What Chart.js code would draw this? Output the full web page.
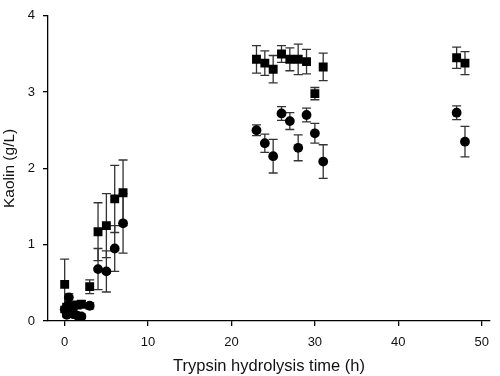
<!DOCTYPE html>
<html>
  <head>
    <script src="https://cdn.jsdelivr.net/npm/chart.js@4.4.0/dist/chart.umd.min.js"></script>
    <style type="text/css">
      html, body { margin: 0; padding: 0; background: #fff; }
      .wrap { width: 500px; height: 376px; }
    </style>
  </head>
  <body>
    <div class="wrap"><canvas id="canvas" width="500" height="376"></canvas></div>

    <script type="text/javascript">
      // squares (upper series)
      var sqTime   = [0, 0.25, 0.5, 1, 1.5, 2, 3, 4, 5, 6, 7, 23, 24, 25, 26, 27, 28, 29, 30, 31, 47, 48];
      var sqKaolin = [0.48, 0.18, 0.2, 0.19, 0.21, 0.22, 0.45, 1.17, 1.25, 1.6, 1.68, 3.43, 3.38, 3.3, 3.5, 3.43, 3.43, 3.4, 2.98, 3.33, 3.45, 3.38];
      var sqErr    = [0.33, 0.04, 0.04, 0.04, 0.04, 0.04, 0.09, 0.38, 0.42, 0.44, 0.43, 0.18, 0.16, 0.18, 0.11, 0.15, 0.2, 0.16, 0.08, 0.18, 0.14, 0.15];

      // circles (lower series)
      var cirTime   = [0, 0.25, 0.5, 1, 1.5, 2, 3, 4, 5, 6, 7, 23, 24, 25, 26, 27, 28, 29, 30, 31, 47, 48];
      var cirKaolin = [0.15, 0.08, 0.31, 0.09, 0.07, 0.06, 0.2, 0.68, 0.65, 0.95, 1.28, 2.5, 2.33, 2.16, 2.72, 2.62, 2.27, 2.7, 2.46, 2.09, 2.73, 2.35];
      var cirErr    = [0.04, 0.03, 0.05, 0.03, 0.03, 0.03, 0.04, 0.27, 0.27, 0.3, 0.39, 0.07, 0.12, 0.22, 0.09, 0.11, 0.17, 0.09, 0.13, 0.22, 0.09, 0.2];

      var xTicks = [0, 10, 20, 30, 40, 50];
      var yTicks = [0, 1, 2, 3, 4];

      var toPoints = function(xs, ys, es) {
        return xs.map(function(x, i) { return { x: x, y: ys[i], err: es[i] }; });
      };

      var errorBars = {
        id: "errorBars",
        beforeDatasetsDraw: function(chart) {
          var ctx = chart.ctx;
          var xs = chart.scales.x, ys = chart.scales.y;
          ctx.save();
          ctx.strokeStyle = "#333";
          ctx.lineWidth = 1.3;
          chart.data.datasets.forEach(function(ds) {
            ds.data.forEach(function(p) {
              var px = xs.getPixelForValue(p.x);
              var top = ys.getPixelForValue(p.y + p.err);
              var bot = ys.getPixelForValue(Math.max(0, p.y - p.err));
              ctx.beginPath();
              ctx.moveTo(px, top); ctx.lineTo(px, bot);
              ctx.moveTo(px - 4.5, top); ctx.lineTo(px + 4.5, top);
              ctx.moveTo(px - 4.5, bot); ctx.lineTo(px + 4.5, bot);
              ctx.stroke();
            });
          });
          ctx.restore();
        }
      };

      var family = "'Liberation Sans', Arial, sans-serif";
      var font = { family: family, size: 13 };

      new Chart(document.getElementById("canvas").getContext("2d"), {
        type: "scatter",
        data: {
          datasets: [
            {
              label: "squares",
              data: toPoints(sqTime, sqKaolin, sqErr),
              pointStyle: "rect",
              pointRadius: 6.3,
              backgroundColor: "#000",
              borderColor: "#000",
              borderWidth: 0
            },
            {
              label: "circles",
              data: toPoints(cirTime, cirKaolin, cirErr),
              pointStyle: "circle",
              pointRadius: 4.9,
              backgroundColor: "#000",
              borderColor: "#000",
              borderWidth: 0
            }
          ]
        },
        options: {
          responsive: false,
          animation: false,
          layout: { padding: { left: 0, right: 10, top: 8, bottom: 0 } },
          plugins: { legend: { display: false }, tooltip: { enabled: false } },
          scales: {
            x: {
              type: "linear",
              min: -2,
              max: 51,
              border: { display: true, color: "#000", width: 1.3 },
              grid: { display: true, drawOnChartArea: false, drawTicks: true, tickLength: 5, color: "#000", lineWidth: 1.3 },
              afterBuildTicks: function(s) { s.ticks = xTicks.map(function(v) { return { value: v }; }); },
              ticks: { color: "#111", font: font, padding: 9, maxRotation: 0 },
              title: { display: true, text: "Trypsin hydrolysis time (h)", color: "#111",
                       font: { family: family, size: 16.5 }, padding: { top: 2, bottom: 0 } },
              afterFit: function(s) { s.height = 55; }
            },
            y: {
              type: "linear",
              min: 0,
              max: 4,
              border: { display: true, color: "#000", width: 1.3 },
              grid: { display: true, drawOnChartArea: false, drawTicks: true, tickLength: 5, color: "#000", lineWidth: 1.3 },
              afterBuildTicks: function(s) { s.ticks = yTicks.map(function(v) { return { value: v }; }); },
              ticks: { color: "#111", font: font, padding: 8 },
              title: { display: true, text: "Kaolin (g/L)", color: "#111",
                       font: { family: family, size: 15.5 }, padding: { top: 0, bottom: 6 } },
              afterFit: function(s) { s.width = 48; }
            }
          }
        },
        plugins: [errorBars]
      });
    </script>
  </body>
</html>
